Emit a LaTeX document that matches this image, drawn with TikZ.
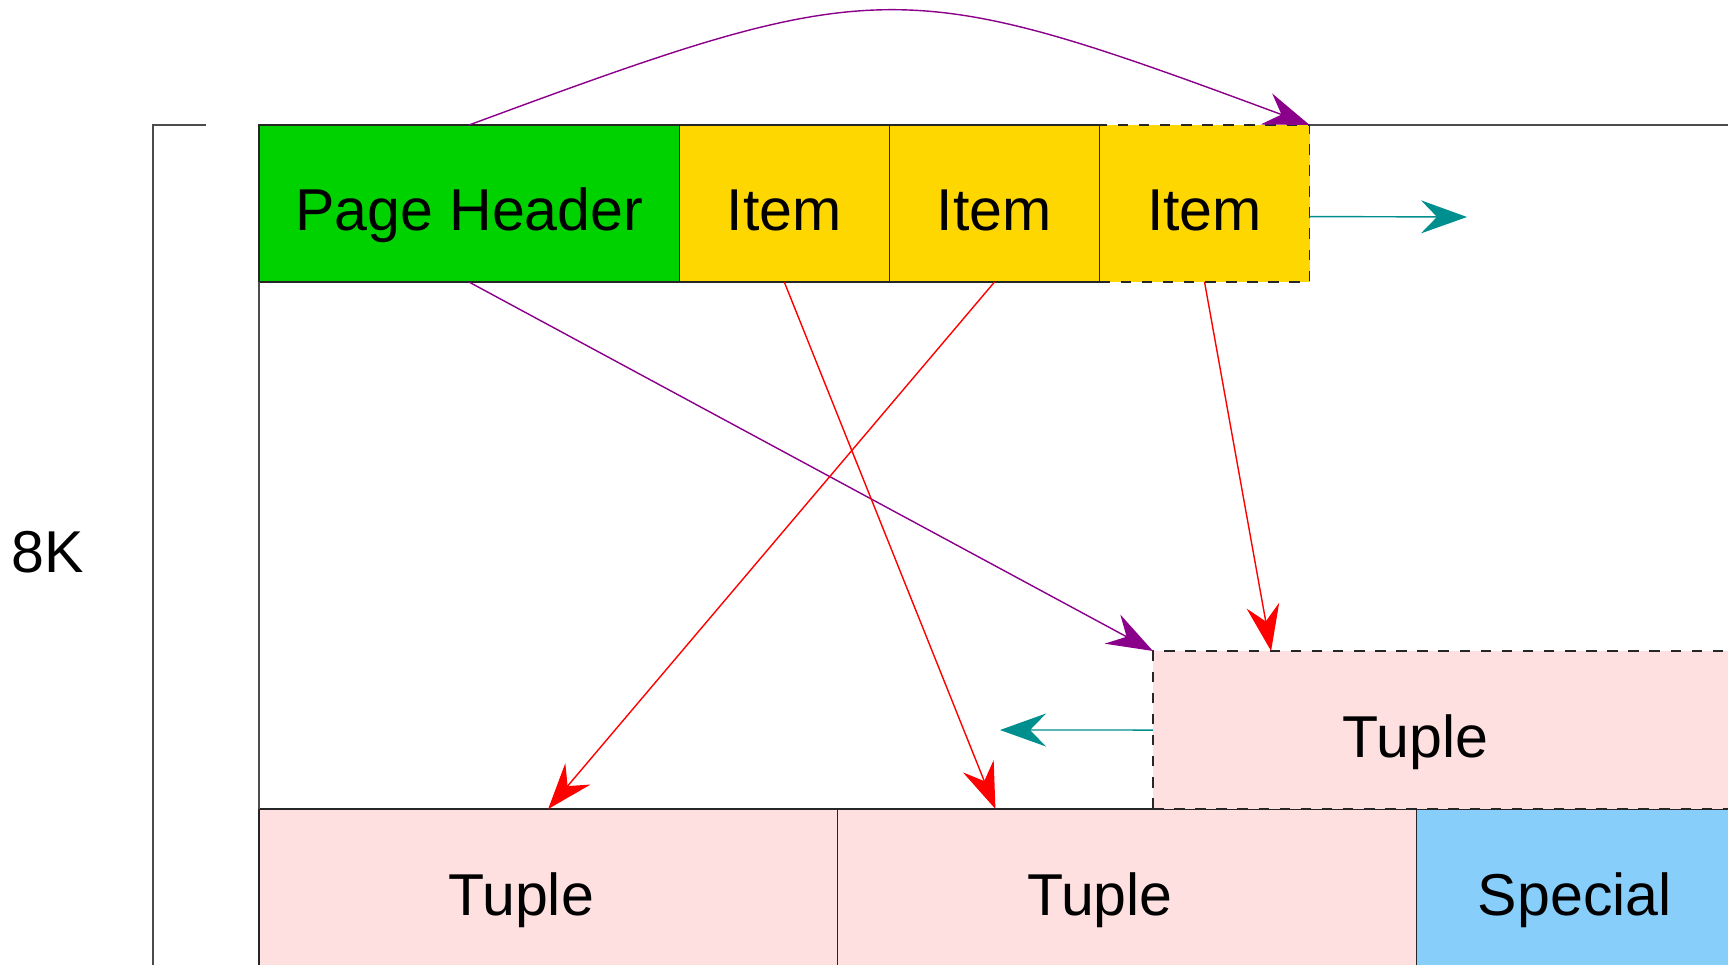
\documentclass[tikz,border=0pt]{standalone}
\usepackage{fontspec}
\setmainfont{Liberation Sans}
\usetikzlibrary{positioning,arrows.meta}
\definecolor{hdrgreen}{RGB}{0,210,0}
\definecolor{itemgold}{RGB}{255,215,0}
\definecolor{tuplepink}{RGB}{255,224,225}
\definecolor{specblue}{RGB}{135,206,250}
\definecolor{ptrpurple}{RGB}{139,0,139}
\definecolor{ptrteal}{RGB}{0,143,143}
\tikzset{
  big/.style={font=\fontsize{16.8}{20}\selectfont},
  boxtext/.style={big, text height=15.4pt, text depth=0pt},
  cell/.style={boxtext, draw=black!85, line width=0.4pt, inner sep=0pt, outer sep=0pt},
  itembox/.style={cell, fill=itemgold, minimum width=2.1cm, minimum height=1.57cm},
  tuplebox/.style={cell, fill=tuplepink, minimum height=1.58cm},
  tip/.style={-{Stealth[length=0.46cm, width=0.33cm, inset=0.16cm]}, line width=0.4pt},
  every label/.style={boxtext, inner sep=0pt}
}

\begin{document}
\begin{tikzpicture}[x=0.01cm, y=-0.01cm]
                \useasboundingbox (0, 0) rectangle (1728, 964);
                \clip (0, 0) rectangle (1728, 964);
                % page header and line pointers
                \node [cell, fill=hdrgreen, minimum width=4.2cm, minimum height=1.57cm, anchor=north west] (hdr) at (259, 125) {Page Header};
                \node [itembox, right=0pt of hdr] (it1) {Item};
                \node [itembox, right=0pt of it1] (it2) {Item};
                \node [itembox, dashed, right=0pt of it2] (it3) {Item};
                % tuples at the end of the page
                \node [tuplebox, minimum width=5.78cm, anchor=north west, label={[xshift=-0.27cm]center:Tuple}] (tupa) at (259, 809) {};
                \node [tuplebox, minimum width=5.79cm, right=0pt of tupa, label={[xshift=-0.27cm]center:Tuple}] (tupb) {};
                \node [cell, fill=specblue, minimum width=3.16cm, minimum height=1.58cm, right=0pt of tupb] (spec) {Special};
                \node [tuplebox, dashed, minimum width=5.75cm, anchor=north west, label={[xshift=-0.25cm]center:Tuple}] (tup) at (1153, 651) {};
                % page outline and size
                \coordinate (topend) at (1728, 125);
                \coordinate (brtop) at (206, 125);
                \coordinate (brcorner) at (153, 125);
                \coordinate (brbottom) at (153, 980);
                \draw [black!70, line width=0.4pt] (hdr.south west) -- (tupa.north west);
                \draw [black!70, line width=0.4pt] (it3.north east) -- (topend);
                \draw [black!70, line width=0.4pt] (brtop) -- (brcorner) -- (brbottom);
                \node [big] (size) at (48, 552) {8K};
                % pointers
                \draw [tip, ptrpurple] (hdr.north) .. controls (880, -27) and (900, -27) .. (it3.north east);
                \draw [tip, ptrpurple] (hdr.south) -- (tup.north west);
                \draw [tip, red] (it1.south) -- ([xshift=1.58cm]tupb.north west);
                \draw [tip, red] (it2.south) -- (tupa.north);
                \draw [tip, red] (it3.south) -- ([xshift=1.18cm]tup.north west);
                \coordinate (grow) at (1467, 217);
                \coordinate (shrink) at (1000, 730);
                \draw [tip, ptrteal] ([yshift=-0.13cm]it3.east) -- (grow);
                \draw [tip, ptrteal] (tup.west) -- (shrink);
            \end{tikzpicture}
\end{document}
